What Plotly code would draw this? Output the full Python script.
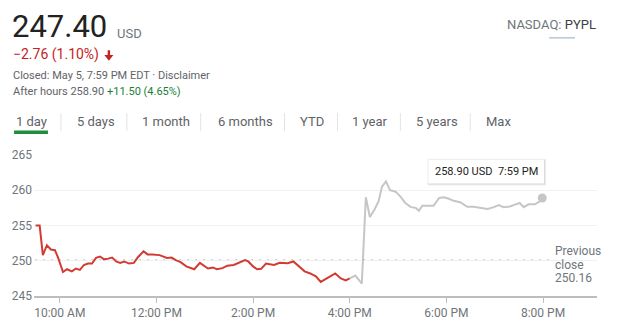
import plotly.graph_objects as go

# ---- data ----
day = "2021-05-05 "
reg_times = ["09:30","09:35","09:39","09:44","09:49","09:54","09:58","10:04","10:09","10:15",
             "10:20","10:25","10:30","10:35","10:40","10:45","10:50","10:55","11:00","11:05",
             "11:10","11:15","11:20","11:26","11:32","11:37","11:44","11:49","11:55","12:04",
             "12:13","12:19","12:24","12:30","12:37","12:43","12:47","12:54","12:59","13:04",
             "13:10","13:15","13:22","13:28","13:36","13:43","13:50","13:54","14:00","14:05",
             "14:10","14:16","14:21","14:26","14:33","14:43","14:50","14:57","15:04","15:11",
             "15:18","15:24","15:32","15:42","15:49","15:55","16:00"]
reg_prices = [255.0,255.0,250.8,252.2,251.6,251.5,250.4,248.4,248.8,248.5,
              248.9,248.7,249.4,249.6,249.6,250.4,250.6,250.2,250.3,250.45,
              249.9,249.7,249.9,249.6,249.7,250.5,251.35,250.9,250.9,250.8,
              250.4,250.45,250.1,249.8,249.2,248.9,248.8,249.7,249.3,248.9,
              249.05,248.8,248.95,249.3,249.4,249.8,250.1,249.9,249.2,248.8,
              248.85,249.6,249.55,249.4,249.7,249.65,249.9,249.2,248.5,248.2,
              247.8,247.0,247.5,248.2,247.5,247.2,247.5]
ah_times = ["16:00","16:07","16:15","16:20","16:25","16:31","16:36","16:40","16:45","16:50",
            "16:57","17:03","17:09","17:16","17:22","17:26","17:30","17:36","17:44","17:51",
            "17:57","18:03","18:09","18:17","18:26","18:34","18:42","18:51","18:59","19:05",
            "19:11","19:19","19:26","19:31","19:36","19:42","19:50","19:57","19:59"]
ah_prices = [247.5,247.9,246.75,259.0,256.2,257.3,258.5,260.5,261.25,260.0,
             259.8,259.1,258.2,257.6,257.5,257.1,257.8,257.8,257.8,258.9,
             259.0,258.8,258.5,258.3,257.65,257.65,257.5,257.35,257.6,257.9,
             257.6,257.7,258.0,258.2,257.6,258.0,258.0,258.5,258.9]
prev_close = 250.16
y_ticks = [245, 250, 255, 260, 265]
x_tick_times = ["10:00","12:00","14:00","16:00","18:00","20:00"]
x_tick_labels = ["10:00 AM","12:00 PM","2:00 PM","4:00 PM","6:00 PM","8:00 PM"]
tabs = ["1 day","5 days","1 month","6 months","YTD","1 year","5 years","Max"]
tab_x = [14, 75, 140, 216, 298, 351, 415, 485]
sep_x = [60, 126, 200, 284, 337, 400, 470]

# ---- layout geometry (pixels) ----
Wfig, Hfig = 631, 332
L, R, T, B = 33, 597, 155, 303
PW, PH = R - L, B - T
def px(x): return (x - L) / PW
def py(y): return (B - y) / PH

GREY = "#70757a"
FONT = "Roboto"

fig = go.Figure()
fig.add_trace(go.Scatter(x=[day + t for t in reg_times], y=reg_prices, mode="lines",
                         line=dict(color="#d23a32", width=2), hoverinfo="skip"))
fig.add_trace(go.Scatter(x=[day + t for t in ah_times], y=ah_prices, mode="lines",
                         line=dict(color="#c6c6c6", width=2), hoverinfo="skip"))
fig.add_trace(go.Scatter(x=[day + ah_times[-1]], y=[ah_prices[-1]], mode="markers",
                         marker=dict(color="#c6c6c6", size=9), hoverinfo="skip"))
# previous close dotted line
fig.add_trace(go.Scatter(x=[day + "09:30", day + "20:09"], y=[prev_close, prev_close], mode="lines",
                         line=dict(color="#9aa0a6", width=1, dash="1px,7px"), hoverinfo="skip"))

shapes = []
annotations = []
# tooltip box with shadow
for off, col in [(2, "rgba(0,0,0,0.06)"), (1, "rgba(0,0,0,0.10)")]:
    shapes.append(dict(type="rect", xref="paper", yref="paper",
                       x0=px(428 - off + 1), x1=px(544 + off), y0=py(185 + off), y1=py(160 - off + 1),
                       line=dict(width=0), fillcolor=col, layer="above"))
shapes.append(dict(type="rect", xref="paper", yref="paper",
                   x0=px(428), x1=px(544), y0=py(185), y1=py(160),
                   line=dict(width=0), fillcolor="white", layer="above"))
annotations.append(dict(xref="paper", yref="paper", x=px(486), y=py(172.5), text="258.90 USD&nbsp;&nbsp;7:59 PM",
                        showarrow=False, xanchor="center", yanchor="middle",
                        font=dict(family=FONT, size=11, color="#222222")))
# previous close label
for i, t in enumerate(["Previous", "close", "250.16"]):
    annotations.append(dict(xref="paper", yref="paper", x=px(553), y=py(256 + 14 * i), text=t,
                            showarrow=False, xanchor="left", yanchor="middle",
                            font=dict(family=FONT, size=12, color=GREY)))
# header
def txt(x, y, text, size, color, anchor="left"):
    annotations.append(dict(xref="paper", yref="paper", x=px(x), y=py(y), text=text,
                            showarrow=False, xanchor=anchor, yanchor="middle",
                            font=dict(family=FONT, size=size, color=color)))
txt(9, 20, "247.40", 31, "#222222")
txt(114, 27, "USD", 13, GREY)
txt(10, 50, "−2.76 (1.10%)", 14, "#c5221f")
# down arrow
ax0 = 108
shapes.append(dict(type="path", xref="paper", yref="paper",
                   path=(f"M {px(ax0-1.2)} {py(45)} L {px(ax0+1.2)} {py(45)} L {px(ax0+1.2)} {py(50)} "
                         f"L {px(ax0+4.5)} {py(50)} L {px(ax0)} {py(56)} L {px(ax0-4.5)} {py(50)} "
                         f"L {px(ax0-1.2)} {py(50)} Z"),
                   fillcolor="#c5221f", line=dict(width=0)))
txt(10, 72, "Closed: May 5, 7:59 PM EDT · Disclaimer", 11, "#5f6368")
txt(10, 88, "After hours 258.90 <span style='color:#188038'>+11.50 (4.65%)</span>", 11, "#5f6368")
txt(598, 18, "NASDAQ: <span style='color:#3c4043'>PYPL</span>", 13, GREY, anchor="right")
shapes.append(dict(type="line", xref="paper", yref="paper", x0=px(549), x1=px(575), y0=py(32), y1=py(32),
                   line=dict(color="#b7c7d6", width=1.5)))
for t, x in zip(tabs, tab_x):
    txt(x - 1, 119.5, t, 13, "#5f6368")
for x in sep_x:
    shapes.append(dict(type="line", xref="paper", yref="paper", x0=px(x), x1=px(x), y0=py(111), y1=py(130),
                       line=dict(color="#e3e3e3", width=1)))
shapes.append(dict(type="line", xref="paper", yref="paper", x0=px(13), x1=px(47), y0=py(131), y1=py(131),
                   line=dict(color="#1e8e3e", width=3.5)))

fig.update_layout(
    width=Wfig, height=Hfig, margin=dict(l=L, r=Wfig - R, t=T, b=Hfig - B),
    paper_bgcolor="white", plot_bgcolor="white", showlegend=False,
    shapes=shapes, annotations=annotations,
    xaxis=dict(type="date", range=[day + "09:28", day + "21:07"],
               tickvals=[day + t for t in x_tick_times], ticktext=x_tick_labels,
               showgrid=False, zeroline=False, showline=True, linecolor="#bdbdbd", linewidth=2,
               ticks="outside", ticklen=5, tickcolor="#bdbdbd", tickwidth=1,
               tickfont=dict(family=FONT, size=12, color=GREY), fixedrange=True),
    yaxis=dict(range=[245, 265], tickvals=y_ticks, showgrid=True, gridcolor="#f1f1f1",
               zeroline=False, showline=False, ticks="",
               tickfont=dict(family=FONT, size=12, color=GREY), ticklabelstandoff=1, fixedrange=True),
)
fig.write_html("out.html")
